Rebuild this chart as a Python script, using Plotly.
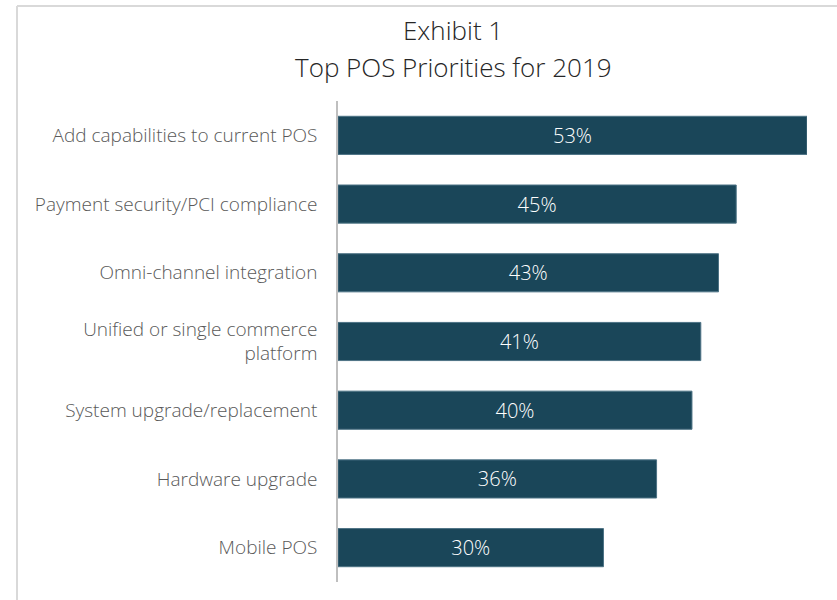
import plotly.graph_objects as go

categories = [
    "Add capabilities to current POS",
    "Payment security/PCI compliance",
    "Omni-channel integration",
    "Unified or single commerce<br>platform",
    "System upgrade/replacement",
    "Hardware upgrade",
    "Mobile POS",
]
values = [53, 45, 43, 41, 40, 36, 30]
value_labels = [f"{v}%" for v in values]
title_lines = ["Exhibit 1", "Top POS Priorities for 2019"]

W, H = 837, 600
L, R, T, B = 338, 30, 101, 18
pw = W - L - R
ph = H - T - B

def px_x(p):
    return (p - L) / pw

def px_y(p):
    return (H - B - p) / ph

FONT = "Open Sans"

fig = go.Figure(
    go.Bar(
        y=categories,
        x=values,
        orientation="h",
        marker=dict(color="#1a4659", line=dict(color="#4d7385", width=1)),
        width=0.555,
        text=value_labels,
        textposition="inside",
        insidetextanchor="middle",
        textfont=dict(color="white", size=20, family=FONT, weight=300),
        hoverinfo="skip",
    )
)

fig.update_layout(
    width=W,
    height=H,
    margin=dict(l=L, r=R, t=T, b=B),
    paper_bgcolor="white",
    plot_bgcolor="white",
    showlegend=False,
    font=dict(family=FONT, color="#595959"),
    annotations=[
        dict(text=title_lines[0], xref="paper", yref="paper",
             x=px_x(453), y=px_y(30), xanchor="center", yanchor="middle",
             showarrow=False, font=dict(size=26, color="#262626", family=FONT, weight=300)),
        dict(text=title_lines[1], xref="paper", yref="paper",
             x=px_x(453), y=px_y(67), xanchor="center", yanchor="middle",
             showarrow=False, font=dict(size=26, color="#262626", family=FONT, weight=300)),
    ],
    shapes=[
        dict(type="line", xref="paper", yref="paper",
             x0=px_x(17), x1=px_x(17), y0=px_y(610), y1=px_y(6),
             line=dict(color="#d9d9d9", width=2)),
        dict(type="line", xref="paper", yref="paper",
             x0=px_x(17), x1=px_x(850), y0=px_y(6), y1=px_y(6),
             line=dict(color="#d9d9d9", width=2)),
    ],
)

fig.update_xaxes(range=[0, 53], visible=False, fixedrange=True)
fig.update_yaxes(
    autorange="reversed",
    showline=True,
    linecolor="#bfbfbf",
    linewidth=1.5,
    showgrid=False,
    ticks="",
    ticklabelstandoff=15,
    tickfont=dict(size=19, color="#595959", family=FONT, weight=300),
    fixedrange=True,
)

fig.write_html("out.html", config={"displayModeBar": False},
               post_script="document.body.style.margin='0';")
